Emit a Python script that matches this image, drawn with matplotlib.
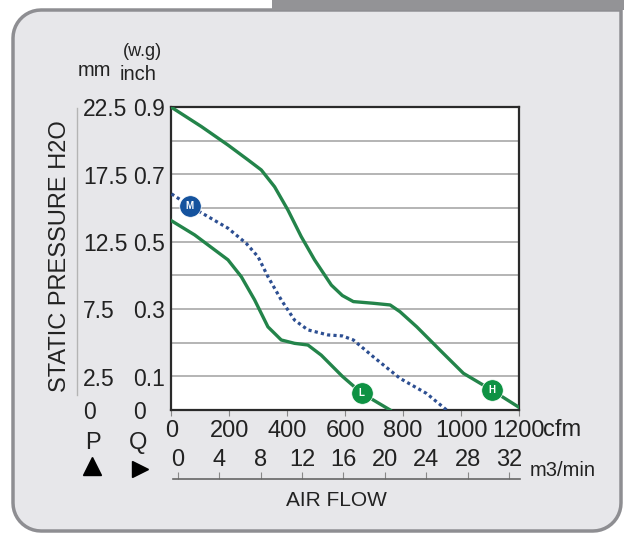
import numpy as np
import matplotlib
matplotlib.use('Agg')
import matplotlib.pyplot as plt
from matplotlib.patches import Polygon, Rectangle
from matplotlib.transforms import blended_transform_factory

plt.rcParams['font.family'] = ['Liberation Sans', 'DejaVu Sans']

# fan curves, x in cfm, y in inch H2O
high_cfm = [0, 103, 195, 264, 310, 356, 402, 448, 494, 552, 590, 628, 697, 755, 789, 847, 927, 1008, 1106, 1200]
high_inch = [0.899, 0.842, 0.787, 0.743, 0.713, 0.663, 0.594, 0.515, 0.446, 0.371, 0.340, 0.322, 0.317, 0.312, 0.292, 0.247, 0.178, 0.109, 0.059, 0.008]

mid_cfm = [0, 63, 137, 195, 258, 299, 333, 379, 425, 471, 540, 590, 628, 697, 789, 881, 950]
mid_inch = [0.642, 0.606, 0.569, 0.540, 0.495, 0.455, 0.396, 0.327, 0.267, 0.238, 0.223, 0.220, 0.208, 0.158, 0.094, 0.049, 0.0]

low_cfm = [0, 80, 195, 241, 287, 333, 379, 425, 471, 517, 590, 657, 755]
low_inch = [0.562, 0.520, 0.446, 0.396, 0.327, 0.247, 0.208, 0.198, 0.193, 0.163, 0.100, 0.050, 0.0]

# speed badges
badge_names = ['M', 'L', 'H']
badge_cfm = [63, 657, 1106]
badge_inch = [0.606, 0.050, 0.059]

cfm_ticks = [0, 200, 400, 600, 800, 1000, 1200]
m3_ticks = [0, 4, 8, 12, 16, 20, 24, 28, 32]
inch_labels = [0.9, 0.7, 0.5, 0.3, 0.1, 0]
mm_labels = ['22.5', '17.5', '12.5', '7.5', '2.5', '0']

W, H = 630, 534
TXT = '#222222'
fig = plt.figure(figsize=(W / 100, H / 100), dpi=100)

# background panel in pixel coordinates (y down)
bg = fig.add_axes([0, 0, 1, 1])
bg.set_xlim(0, W)
bg.set_ylim(H, 0)
bg.axis('off')


def corner(cx, cy, r, a0, a1):
    t = np.radians(np.linspace(a0, a1, 12))
    return np.column_stack([cx + r * np.cos(t), cy + r * np.sin(t)])


x0, y0, x1, y1, r = 13, 10, 621, 531, 28
outline = np.vstack([
    [[x1, y0]],
    corner(x1 - r, y1 - r, r, 0, 90),
    corner(x0 + r, y1 - r, r, 90, 180),
    corner(x0 + r, y0 + r, r, 180, 270),
])
bg.add_patch(Polygon(outline, closed=True, fc='#e7e7ea', ec='#8e8e92', lw=2.5, joinstyle='round'))
bg.add_patch(Rectangle((272, 0), 352, 10, fc='#939396', ec='none'))

# main chart
ax = fig.add_axes([171.5 / W, 1 - 410 / H, 347.5 / W, 303 / H])
ax.set_facecolor('white')
ax.set_xlim(0, 1200)
ax.set_ylim(0, 0.9)
for y in [0.1, 0.2, 0.3, 0.4, 0.5, 0.6, 0.7, 0.8]:
    ax.axhline(y, color='#a8a8a8', lw=1.2, zorder=1)
for s in ax.spines.values():
    s.set_color('#2a2a2a')
    s.set_linewidth(1.6)

green = '#23844a'
ax.plot(high_cfm, high_inch, color=green, lw=2.4, zorder=3, solid_joinstyle='round')
ax.plot(low_cfm, low_inch, color=green, lw=2.4, zorder=3, solid_joinstyle='round')
ax.plot(mid_cfm, mid_inch, color='#2d4f92', lw=2.3, ls=(0, (1, 1)), zorder=3)

badge_colors = ['#15539e', '#0e9243', '#0e9243']
for name, x, y, c in zip(badge_names, badge_cfm, badge_inch, badge_colors):
    ax.plot(x, y, 'o', ms=15.5, color=c, mec='white', mew=0.5, zorder=5, clip_on=False)
    ax.text(x, y, name, color='white', fontsize=7, fontweight='bold',
            ha='center', va='center', zorder=6)

ax.set_yticks([])
ax.set_xticks(cfm_ticks)
ax.set_xticklabels([str(v) for v in cfm_ticks], fontsize=17, color=TXT)
ax.tick_params(axis='x', direction='out', length=4, color='#888888', pad=3)

# y labels, two columns (mm / inch)
tr = blended_transform_factory(ax.transAxes, ax.transData)
for mm, inch in zip(mm_labels, inch_labels):
    ax.text(-0.255, inch - 0.008, mm, transform=tr, fontsize=16.5, ha='left', va='center', color=TXT)
    ax.text(-0.11, inch - 0.008, f'{inch:g}', transform=tr, fontsize=16.5, ha='left', va='center', color=TXT)

# m3/min scale with its own line
ax2 = fig.add_axes([173 / W, 1 - 479 / H, (520 - 173) / W, 0.0001])
ax2.set_xlim(-0.48, 33.06)
ax2.patch.set_alpha(0)
for k in ['left', 'right', 'bottom']:
    ax2.spines[k].set_visible(False)
ax2.spines['top'].set_color('#666666')
ax2.spines['top'].set_linewidth(1.2)
ax2.set_yticks([])
ax2.set_xticks(m3_ticks)
ax2.set_xticklabels([str(v) for v in m3_ticks], fontsize=17, color=TXT)
ax2.tick_params(axis='x', bottom=False, labelbottom=False, top=True, labeltop=True,
                direction='out', length=5, color='#888888', pad=1)

# axis captions
bg.text(543, 430, 'cfm', fontsize=17, ha='left', va='center', color=TXT)
bg.text(530, 470, 'm3/min', fontsize=14.5, ha='left', va='center', color=TXT)
bg.text(336, 500, 'AIR FLOW', fontsize=15, ha='center', va='center', color=TXT)
bg.text(60, 256, 'STATIC PRESSURE H2O', fontsize=17, rotation=90, ha='center', va='center', color=TXT)
bg.plot([77, 77], [108, 395], color='#b4b4b4', lw=1)
bg.text(94, 70, 'mm', fontsize=14.5, ha='center', va='center', color=TXT)
bg.text(142, 51, '(w.g)', fontsize=13, ha='center', va='center', color=TXT)
bg.text(138, 74, 'inch', fontsize=14.5, ha='center', va='center', color=TXT)
bg.text(93, 443, 'P', fontsize=17, ha='center', va='center', color=TXT)
bg.text(138, 443, 'Q', fontsize=17, ha='center', va='center', color=TXT)
bg.plot(92, 466, '^', ms=13, color='black')
bg.plot(140, 468.5, '>', ms=11, color='black')

fig.savefig('out.png', dpi=100)
